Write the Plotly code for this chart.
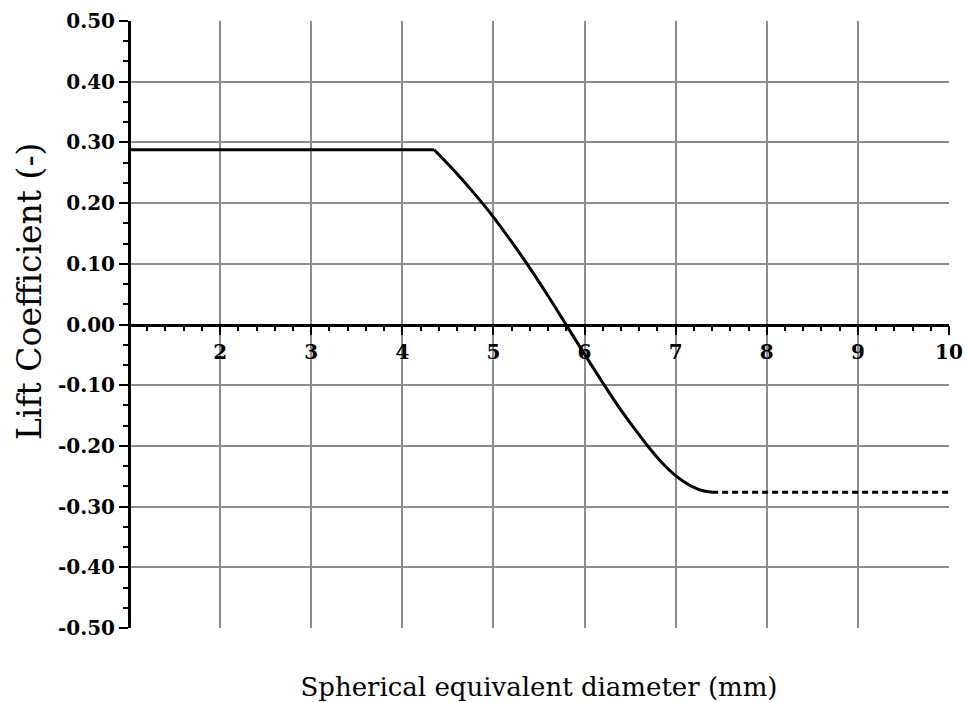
import plotly.graph_objects as go

# Lift coefficient vs. spherical equivalent bubble diameter
flat_d = [1.0, 4.35]
flat_cl = [0.288, 0.288]

curve_d = [4.35, 4.6, 4.8, 5.0, 5.2, 5.4, 5.6, 5.8, 6.0, 6.2, 6.4, 6.6,
           6.7, 6.8, 6.9, 7.0, 7.1, 7.2, 7.3, 7.4]
curve_cl = [0.288, 0.2485, 0.214, 0.177, 0.136, 0.093, 0.047, -0.001, -0.049, -0.096,
            -0.141, -0.182, -0.2015, -0.2195, -0.2355, -0.249, -0.260, -0.2685, -0.274, -0.2765]

tail_d = [7.4, 10.0]
tail_cl = [-0.2765, -0.2765]

x_ticks = [2, 3, 4, 5, 6, 7, 8, 9, 10]
x_grid = [2, 3, 4, 5, 6, 7, 8, 9]
y_ticks = [0.5, 0.4, 0.3, 0.2, 0.1, 0.0, -0.1, -0.2, -0.3, -0.4, -0.5]
y_tick_text = ["0.50", "0.40", "0.30", "0.20", "0.10", "0.00", "-0.10", "-0.20", "-0.30", "-0.40", "-0.50"]
y_grid = [0.4, 0.3, 0.2, 0.1, -0.1, -0.2, -0.3, -0.4]

FONT = "DejaVu Serif"
GRID = "#8c8c8c"

fig = go.Figure()
fig.add_trace(go.Scatter(x=flat_d, y=flat_cl, mode="lines",
                         line=dict(color="black", width=3), hoverinfo="skip", showlegend=False))
fig.add_trace(go.Scatter(x=curve_d, y=curve_cl, mode="lines",
                         line=dict(color="black", width=3, shape="spline", smoothing=1),
                         hoverinfo="skip", showlegend=False))
fig.add_trace(go.Scatter(x=tail_d, y=tail_cl, mode="lines",
                         line=dict(color="black", width=3, dash="6px,4px"),
                         hoverinfo="skip", showlegend=False))
# carrier for the axes drawn through the origin
fig.add_trace(go.Scatter(x=[1, 10], y=[0, 0], xaxis="x2", yaxis="y2", mode="lines",
                         opacity=0, hoverinfo="skip", showlegend=False))

fig.update_layout(
    width=965, height=702,
    margin=dict(l=129, r=16, t=21, b=74),
    paper_bgcolor="white", plot_bgcolor="white",
    xaxis=dict(range=[1, 10], tickmode="array", tickvals=x_grid, showticklabels=False,
               ticks="", showgrid=True, gridcolor=GRID, gridwidth=2, zeroline=False,
               showline=False, automargin=False,
               title=dict(text="Spherical equivalent diameter (mm)",
                          font=dict(family=FONT, size=26, color="black"), standoff=49)),
    yaxis=dict(range=[-0.5, 0.5], tickmode="array", tickvals=y_grid, showticklabels=False,
               ticks="", showgrid=True, gridcolor=GRID, gridwidth=2, zeroline=False,
               showline=False, automargin=False),
    xaxis2=dict(overlaying="x", anchor="free", position=0.5, range=[1, 10],
                tickmode="array", tickvals=x_ticks, ticktext=[str(v) for v in x_ticks],
                ticks="outside", ticklen=9, tickwidth=2, tickcolor="black",
                showline=True, linewidth=2.5, linecolor="black",
                showgrid=False, zeroline=False, automargin=False,
                tickfont=dict(family=FONT, size=20, color="black", weight="bold"),
                minor=dict(tickmode="linear", tick0=1, dtick=0.2, ticks="outside",
                           ticklen=5, tickwidth=2, tickcolor="black", showgrid=False)),
    yaxis2=dict(overlaying="y", anchor="free", position=0, side="left", range=[-0.5, 0.5],
                tickmode="array", tickvals=y_ticks, ticktext=y_tick_text,
                ticks="outside", ticklen=9, tickwidth=2, tickcolor="black",
                showline=True, linewidth=3, linecolor="black",
                showgrid=False, zeroline=False, automargin=False,
                tickfont=dict(family=FONT, size=20, color="black", weight="bold"),
                minor=dict(tickmode="linear", tick0=-0.5, dtick=0.1 / 3, ticks="outside",
                           ticklen=5, tickwidth=2, tickcolor="black", showgrid=False)),
    annotations=[dict(text="Lift Coefficient (-)", textangle=-90,
                      xref="paper", yref="paper", x=-0.122, y=0.555,
                      xanchor="center", yanchor="middle", showarrow=False,
                      font=dict(family=FONT, size=33, color="black"))],
)

fig.write_html("out.html")
